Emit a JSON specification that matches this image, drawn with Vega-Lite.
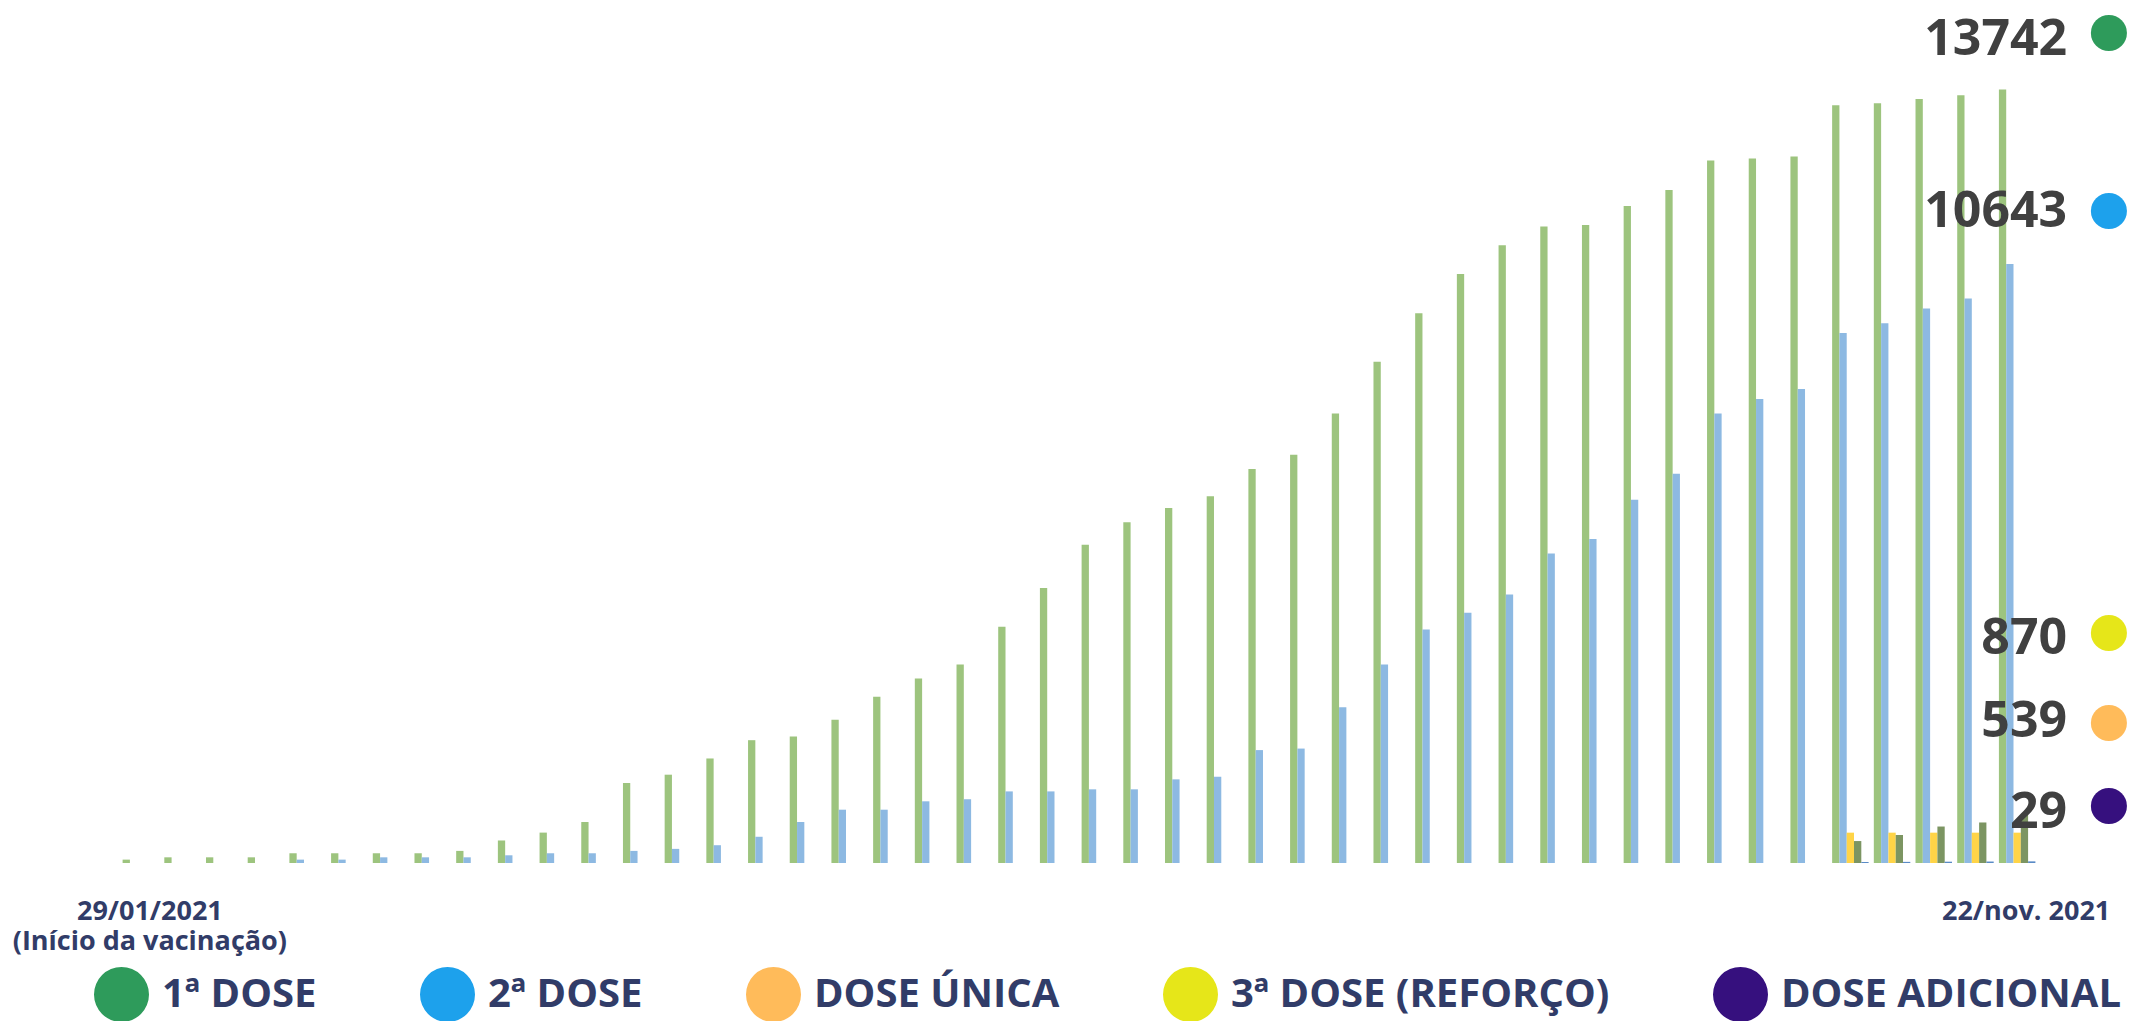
{
  "$schema": "https://vega.github.io/schema/vega-lite/v6.json",
  "width": 1918,
  "height": 788,
  "autosize": {"type": "none"},
  "padding": {"left": 120, "top": 75, "right": 93, "bottom": 158},
  "background": "white",
  "config": {"view": {"stroke": null}, "font": "Open Sans"},
  "data": {
    "values": [
      {"g": 1, "s": "1ª DOSE", "v": 60}, {"g": 2, "s": "1ª DOSE", "v": 101}, {"g": 3, "s": "1ª DOSE", "v": 101}, {"g": 4, "s": "1ª DOSE", "v": 101},
      {"g": 5, "s": "1ª DOSE", "v": 173}, {"g": 6, "s": "1ª DOSE", "v": 173}, {"g": 7, "s": "1ª DOSE", "v": 173}, {"g": 8, "s": "1ª DOSE", "v": 173},
      {"g": 9, "s": "1ª DOSE", "v": 215}, {"g": 10, "s": "1ª DOSE", "v": 400}, {"g": 11, "s": "1ª DOSE", "v": 540}, {"g": 12, "s": "1ª DOSE", "v": 728},
      {"g": 13, "s": "1ª DOSE", "v": 1421}, {"g": 14, "s": "1ª DOSE", "v": 1569}, {"g": 15, "s": "1ª DOSE", "v": 1857}, {"g": 16, "s": "1ª DOSE", "v": 2182},
      {"g": 17, "s": "1ª DOSE", "v": 2247}, {"g": 18, "s": "1ª DOSE", "v": 2544}, {"g": 19, "s": "1ª DOSE", "v": 2953}, {"g": 20, "s": "1ª DOSE", "v": 3278},
      {"g": 21, "s": "1ª DOSE", "v": 3528}, {"g": 22, "s": "1ª DOSE", "v": 4197}, {"g": 23, "s": "1ª DOSE", "v": 4884}, {"g": 24, "s": "1ª DOSE", "v": 5655},
      {"g": 25, "s": "1ª DOSE", "v": 6054}, {"g": 26, "s": "1ª DOSE", "v": 6305}, {"g": 27, "s": "1ª DOSE", "v": 6518}, {"g": 28, "s": "1ª DOSE", "v": 7001},
      {"g": 29, "s": "1ª DOSE", "v": 7252}, {"g": 30, "s": "1ª DOSE", "v": 7985}, {"g": 31, "s": "1ª DOSE", "v": 8904}, {"g": 32, "s": "1ª DOSE", "v": 9768},
      {"g": 33, "s": "1ª DOSE", "v": 10464}, {"g": 34, "s": "1ª DOSE", "v": 10975}, {"g": 35, "s": "1ª DOSE", "v": 11309}, {"g": 36, "s": "1ª DOSE", "v": 11337},
      {"g": 37, "s": "1ª DOSE", "v": 11671}, {"g": 38, "s": "1ª DOSE", "v": 11959}, {"g": 39, "s": "1ª DOSE", "v": 12479}, {"g": 40, "s": "1ª DOSE", "v": 12516},
      {"g": 41, "s": "1ª DOSE", "v": 12553}, {"g": 42, "s": "1ª DOSE", "v": 13463}, {"g": 43, "s": "1ª DOSE", "v": 13500}, {"g": 44, "s": "1ª DOSE", "v": 13575},
      {"g": 45, "s": "1ª DOSE", "v": 13640}, {"g": 46, "s": "1ª DOSE", "v": 13742},
      {"g": 5, "s": "2ª DOSE", "v": 60}, {"g": 6, "s": "2ª DOSE", "v": 60}, {"g": 7, "s": "2ª DOSE", "v": 101}, {"g": 8, "s": "2ª DOSE", "v": 101},
      {"g": 9, "s": "2ª DOSE", "v": 101}, {"g": 10, "s": "2ª DOSE", "v": 137}, {"g": 11, "s": "2ª DOSE", "v": 173}, {"g": 12, "s": "2ª DOSE", "v": 173},
      {"g": 13, "s": "2ª DOSE", "v": 215}, {"g": 14, "s": "2ª DOSE", "v": 251}, {"g": 15, "s": "2ª DOSE", "v": 316}, {"g": 16, "s": "2ª DOSE", "v": 466},
      {"g": 17, "s": "2ª DOSE", "v": 728}, {"g": 18, "s": "2ª DOSE", "v": 947}, {"g": 19, "s": "2ª DOSE", "v": 947}, {"g": 20, "s": "2ª DOSE", "v": 1096},
      {"g": 21, "s": "2ª DOSE", "v": 1133}, {"g": 22, "s": "2ª DOSE", "v": 1272}, {"g": 23, "s": "2ª DOSE", "v": 1272}, {"g": 24, "s": "2ª DOSE", "v": 1309},
      {"g": 25, "s": "2ª DOSE", "v": 1309}, {"g": 26, "s": "2ª DOSE", "v": 1486}, {"g": 27, "s": "2ª DOSE", "v": 1532}, {"g": 28, "s": "2ª DOSE", "v": 2006},
      {"g": 29, "s": "2ª DOSE", "v": 2033}, {"g": 30, "s": "2ª DOSE", "v": 2767}, {"g": 31, "s": "2ª DOSE", "v": 3528}, {"g": 32, "s": "2ª DOSE", "v": 4150},
      {"g": 33, "s": "2ª DOSE", "v": 4448}, {"g": 34, "s": "2ª DOSE", "v": 4772}, {"g": 35, "s": "2ª DOSE", "v": 5497}, {"g": 36, "s": "2ª DOSE", "v": 5757},
      {"g": 37, "s": "2ª DOSE", "v": 6453}, {"g": 38, "s": "2ª DOSE", "v": 6917}, {"g": 39, "s": "2ª DOSE", "v": 7985}, {"g": 40, "s": "2ª DOSE", "v": 8245},
      {"g": 41, "s": "2ª DOSE", "v": 8421}, {"g": 42, "s": "2ª DOSE", "v": 9415}, {"g": 43, "s": "2ª DOSE", "v": 9591}, {"g": 44, "s": "2ª DOSE", "v": 9851},
      {"g": 45, "s": "2ª DOSE", "v": 10028}, {"g": 46, "s": "2ª DOSE", "v": 10643},
      {"g": 42, "s": "DOSE ÚNICA", "v": 539}, {"g": 43, "s": "DOSE ÚNICA", "v": 539}, {"g": 44, "s": "DOSE ÚNICA", "v": 539}, {"g": 45, "s": "DOSE ÚNICA", "v": 539}, {"g": 46, "s": "DOSE ÚNICA", "v": 539},
      {"g": 42, "s": "3ª DOSE (REFORÇO)", "v": 390}, {"g": 43, "s": "3ª DOSE (REFORÇO)", "v": 498}, {"g": 44, "s": "3ª DOSE (REFORÇO)", "v": 648}, {"g": 45, "s": "3ª DOSE (REFORÇO)", "v": 720}, {"g": 46, "s": "3ª DOSE (REFORÇO)", "v": 870},
      {"g": 42, "s": "DOSE ADICIONAL", "v": 18}, {"g": 43, "s": "DOSE ADICIONAL", "v": 20}, {"g": 44, "s": "DOSE ADICIONAL", "v": 23}, {"g": 45, "s": "DOSE ADICIONAL", "v": 26}, {"g": 46, "s": "DOSE ADICIONAL", "v": 29}
    ]
  },
  "layer": [
    {
      "mark": {"type": "bar"},
      "encoding": {
        "x": {
          "field": "g",
          "type": "ordinal",
          "scale": {"paddingInner": 0.125, "paddingOuter": 0.0625},
          "axis": {
            "title": null,
            "domain": false,
            "ticks": false,
            "labelAngle": 0,
            "labelOverlap": false,
            "labelLimit": 500,
            "labelOffset": 9,
            "labelFont": "Open Sans",
            "labelFontWeight": "bold",
            "labelFontSize": 27,
            "labelColor": "#313C68",
            "labelPadding": 35,
            "labelBaseline": "top",
            "labelLineHeight": 30,
            "labelExpr": "datum.value == 1 ? ['29/01/2021', '(Início da vacinação)'] : (datum.value == 46 ? '22/nov. 2021' : '')"
          }
        },
        "xOffset": {
          "field": "s",
          "type": "nominal",
          "scale": {"domain": ["1ª DOSE", "2ª DOSE", "DOSE ÚNICA", "3ª DOSE (REFORÇO)", "DOSE ADICIONAL"], "paddingInner": 0, "paddingOuter": 0}
        },
        "y": {"field": "v", "type": "quantitative", "scale": {"domain": [0, 14000]}, "axis": null},
        "color": {
          "field": "s",
          "type": "nominal",
          "scale": {
            "domain": ["DOSE ADICIONAL", "3ª DOSE (REFORÇO)", "DOSE ÚNICA", "2ª DOSE", "1ª DOSE"],
            "range": ["#5A8BC6", "#7C9562", "#FFD447", "#8DB9E2", "#9DC47E"]
          },
          "legend": null
        }
      }
    },
    {
      "transform": [{"filter": "datum.g == 46"}],
      "mark": {"type": "text", "align": "right", "baseline": "middle", "dx": 50, "font": "Open Sans", "fontWeight": "bold", "fontSize": 50, "color": "#404040"},
      "encoding": {
        "x": {"field": "g", "type": "ordinal"},
        "y": {
          "field": "v",
          "type": "quantitative",
          "scale": {"domain": [29, 539, 870, 10643, 13742], "range": [738, 647, 564, 137, -35], "zero": false, "nice": false},
          "axis": null
        },
        "text": {"field": "v", "type": "quantitative", "format": "d"}
      }
    },
    {
      "transform": [{"filter": "datum.g == 46"}],
      "mark": {"type": "point", "filled": true, "shape": "circle", "size": 1300, "opacity": 1, "strokeWidth": 0},
      "encoding": {
        "x": {"field": "g", "type": "ordinal"},
        "xOffset": {"value": 110},
        "y": {
          "field": "v",
          "type": "quantitative",
          "scale": {"domain": [29, 539, 870, 10643, 13742], "range": [731, 648, 558, 136, -42], "zero": false, "nice": false},
          "axis": null
        },
        "fill": {
          "field": "s",
          "type": "nominal",
          "scale": {
            "domain": ["1ª DOSE", "2ª DOSE", "DOSE ÚNICA", "3ª DOSE (REFORÇO)", "DOSE ADICIONAL"],
            "range": ["#2E9B5B", "#1DA1EC", "#FFBB5A", "#E6E619", "#36107E"]
          },
          "legend": {
            "orient": "none",
            "legendX": -26,
            "legendY": 892,
            "direction": "horizontal",
            "columns": 5,
            "title": null,
            "padding": 0,
            "symbolType": "circle",
            "symbolSize": 3025,
            "symbolStrokeWidth": 0,
            "symbolOpacity": 1,
            "labelFont": "Open Sans",
            "labelFontWeight": "bold",
            "labelFontSize": 40,
            "labelColor": "#313C68",
            "labelOffset": 13,
            "labelLimit": 1000,
            "columnPadding": 103
          }
        }
      }
    }
  ],
  "resolve": {"scale": {"y": "independent"}}
}
